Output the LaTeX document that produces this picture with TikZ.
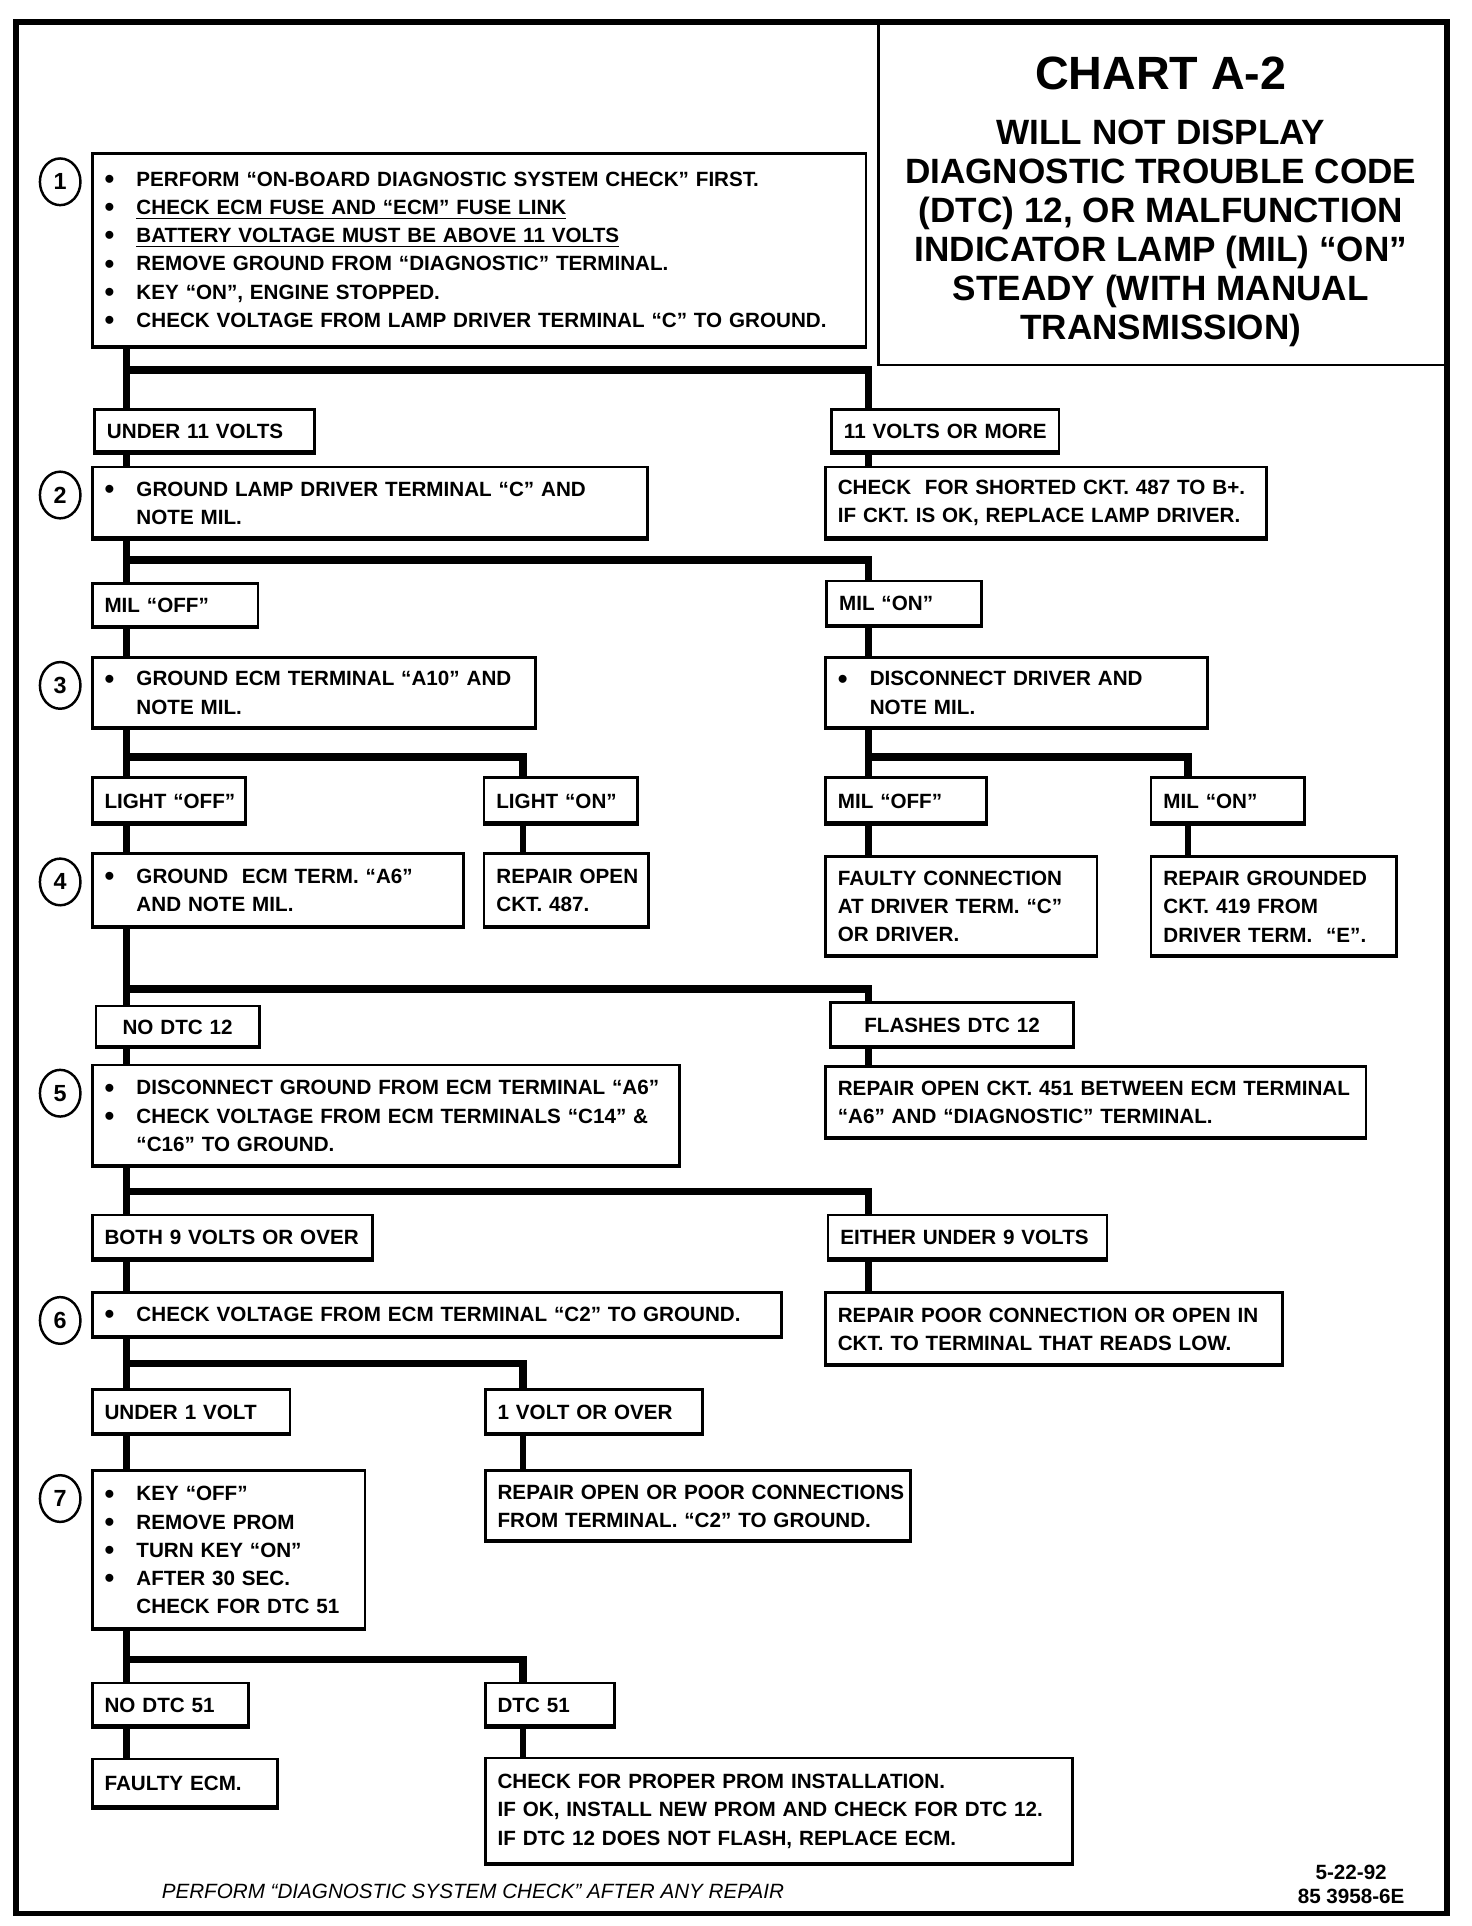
\documentclass[tikz,border=0pt]{standalone}
\usepackage{fontspec}
\setmainfont{Liberation Sans}
\usetikzlibrary{shapes.geometric,calc}
\newcommand{\boxfont}{\fontsize{8.4}{11.5}\selectfont\bfseries}
\newcommand{\chartfont}{\fontsize{19}{22}\selectfont\bfseries}
\newcommand{\headfont}{\fontsize{14.3}{15.9}\selectfont\bfseries}
\newcommand{\footfont}{\fontsize{8.4}{10}\selectfont\itshape}
\newcommand{\bul}{\makebox[13pt][l]{\raisebox{-0.9pt}{\scalebox{1.35}{\textbullet}}}}
\newcommand{\bgap}{\hspace*{13pt}}

\begin{document}
\begin{tikzpicture}[x=0.5pt,y=-0.5pt,
  base/.style={draw,line width=1.1pt,anchor=north west,inner xsep=0pt,inner ysep=0pt,font=\boxfont,
    path picture={\draw[line width=2.4pt] (path picture bounding box.south west) -- (path picture bounding box.south east);}},
  box/.style={base,align=left,execute at begin node={\leftskip=5pt}},
  cbox/.style={base,align=center},
  num/.style={ellipse,draw,line width=1pt,minimum width=16.5pt,minimum height=19pt,inner sep=0pt,font=\fontsize{9.5}{10}\selectfont\bfseries},
  ln/.style={line width=2.6pt}, bar/.style={line width=3.2pt}]
\useasboundingbox (0,0) rectangle (1198,1568);
\draw[line width=2.2pt] (13,18) rectangle (1178,1558);
% title block
\node[draw,line width=1.1pt,anchor=north west,minimum width=232pt,minimum height=139pt,inner sep=0pt] (ttlbox) at (714,18) {};
\node[font=\chartfont] (ttl) at (945,60) {CHART A-2};
\node[font=\headfont,align=center] (head) at (945,190) {WILL NOT DISPLAY\\DIAGNOSTIC TROUBLE CODE\\(DTC) 12, OR MALFUNCTION\\INDICATOR LAMP (MIL) “ON”\\STEADY (WITH MANUAL\\TRANSMISSION)};
% columns and junctions
\coordinate (cA) at (103,0); \coordinate (cB) at (426,0);
\coordinate (cC) at (707,0); \coordinate (cD) at (967,0);
\coordinate (j1) at (103,301); \coordinate (j2) at (103,456);
\coordinate (j3) at (103,616); \coordinate (j4) at (103,805);
\coordinate (j5) at (103,970); \coordinate (j6) at (103,1110);
\coordinate (j7) at (103,1351);
% step 1
\node[box,text width=315pt,minimum height=79pt] (s1) at (74,124) {\bul PERFORM “ON-BOARD DIAGNOSTIC SYSTEM CHECK” FIRST.\\
\bul \underline{CHECK ECM FUSE AND “ECM” FUSE LINK}\\
\bul \underline{BATTERY VOLTAGE MUST BE ABOVE 11 VOLTS}\\
\bul REMOVE GROUND FROM “DIAGNOSTIC” TERMINAL.\\
\bul KEY “ON”, ENGINE STOPPED.\\
\bul CHECK VOLTAGE FROM LAMP DRIVER TERMINAL “C” TO GROUND.};
\node[num] (n1) at ($(s1.north west)+(-25,24)$) {1};
\node[box,text width=89.5pt,minimum height=18pt] (u11) at (76,332) {UNDER 11 VOLTS};
\node[box,text width=92.5pt,minimum height=18pt] (o11) at (676,332) {11 VOLTS OR MORE};
% step 2
\node[box,text width=226pt,minimum height=29.5pt] (s2) at (74,379) {\bul GROUND LAMP DRIVER TERMINAL “C” AND\\\bgap NOTE MIL.};
\node[num] (n2) at ($(s2.north west)+(-25,24)$) {2};
\node[box,text width=179.5pt,minimum height=29.5pt] (r2) at (671,379) {CHECK\ \ FOR SHORTED CKT. 487 TO B+.\\IF CKT. IS OK, REPLACE LAMP DRIVER.};
\node[box,text width=67.5pt,minimum height=18pt] (moff) at (74,474) {MIL “OFF”};
\node[box,text width=63pt,minimum height=18.5pt] (mon) at (672,472) {MIL “ON”};
% step 3
\node[box,text width=180.5pt,minimum height=29pt] (s3) at (74,534) {\bul GROUND ECM TERMINAL “A10” AND\\\bgap NOTE MIL.};
\node[num] (n3) at ($(s3.north west)+(-25,24)$) {3};
\node[box,text width=155.5pt,minimum height=29pt] (r3) at (671,534) {\bul DISCONNECT DRIVER AND\\\bgap NOTE MIL.};
\node[box,text width=62.5pt,minimum height=19pt] (loff) at (74,632) {LIGHT “OFF”};
\node[box,text width=62.5pt,minimum height=19pt] (lon) at (393,632) {LIGHT “ON”};
\node[box,text width=65.5pt,minimum height=19pt] (m2off) at (671,632) {MIL “OFF”};
\node[box,text width=62.5pt,minimum height=19pt] (m2on) at (936,632) {MIL “ON”};
% step 4
\node[box,text width=151pt,minimum height=30pt] (s4) at (74,694) {\bul GROUND\ \ ECM TERM. “A6”\\\bgap AND NOTE MIL.};
\node[num] (n4) at ($(s4.north west)+(-25,24)$) {4};
\node[box,text width=67pt,minimum height=30pt] (rp487) at (393,694) {REPAIR OPEN\\CKT. 487.};
\node[box,text width=110.5pt,minimum height=41pt] (fc) at (671,696) {FAULTY CONNECTION\\AT DRIVER TERM. “C”\\OR DRIVER.};
\node[box,text width=100pt,minimum height=41pt] (rg) at (936,696) {REPAIR GROUNDED\\CKT. 419 FROM\\DRIVER TERM.\ \ “E”.};
\node[cbox,text width=66.5pt,minimum height=17pt] (nd12) at (77,818) {NO DTC 12};
\node[cbox,text width=99pt,minimum height=18.5pt] (fl12) at (675,815) {FLASHES DTC 12};
% step 5
\node[box,text width=239pt,minimum height=41.5pt] (s5) at (74,866) {\bul DISCONNECT GROUND FROM ECM TERMINAL “A6”\\
\bul CHECK VOLTAGE FROM ECM TERMINALS “C14” \&\\\bgap “C16” TO GROUND.};
\node[num] (n5) at ($(s5.north west)+(-25,24)$) {5};
\node[box,text width=220pt,minimum height=29.5pt] (r5) at (671,867) {REPAIR OPEN CKT. 451 BETWEEN ECM TERMINAL\\“A6” AND “DIAGNOSTIC” TERMINAL.};
\node[box,text width=114pt,minimum height=18.5pt] (b9) at (74,988) {BOTH 9 VOLTS OR OVER};
\node[box,text width=113.5pt,minimum height=18.5pt] (e9) at (673,988) {EITHER UNDER 9 VOLTS};
% step 6
\node[box,text width=280.5pt,minimum height=18.5pt] (s6) at (74,1051) {\bul CHECK VOLTAGE FROM ECM TERMINAL “C2” TO GROUND.};
\node[num] (n6) at ($(s6.north west)+(-25,24)$) {6};
\node[box,text width=186pt,minimum height=30pt] (r6) at (671,1051) {REPAIR POOR CONNECTION OR OPEN IN\\CKT. TO TERMINAL THAT READS LOW.};
\node[box,text width=80.5pt,minimum height=18.5pt] (u1) at (74,1130) {UNDER 1 VOLT};
\node[box,text width=88.5pt,minimum height=18.5pt] (v1) at (394,1130) {1 VOLT OR OVER};
% step 7
\node[box,text width=111pt,minimum height=65pt] (s7) at (74,1196) {\bul KEY “OFF”\\\bul REMOVE PROM\\\bul TURN KEY “ON”\\\bul AFTER 30 SEC.\\\bgap CHECK FOR DTC 51};
\node[num] (n7) at ($(s7.north west)+(-25,24)$) {7};
\node[box,text width=173pt,minimum height=29pt] (r7) at (394,1196) {REPAIR OPEN OR POOR CONNECTIONS\\FROM TERMINAL. “C2” TO GROUND.};
\node[box,text width=63.5pt,minimum height=18pt] (nd51) at (74,1369) {NO DTC 51};
\node[box,text width=52.5pt,minimum height=18pt] (d51) at (394,1369) {DTC 51};
\node[box,text width=75.5pt,minimum height=20pt] (fecm) at (74,1431) {FAULTY ECM.};
\node[box,text width=239pt,minimum height=43.5pt] (chk) at (394,1430) {CHECK FOR PROPER PROM INSTALLATION.\\IF OK, INSTALL NEW PROM AND CHECK FOR DTC 12.\\IF DTC 12 DOES NOT FLASH, REPLACE ECM.};
% footer
\node[font=\footfont] (foot) at (385,1540) {PERFORM “DIAGNOSTIC SYSTEM CHECK” AFTER ANY REPAIR};
\node[font=\fontsize{8.4}{9.5}\selectfont\bfseries,align=center] (date) at (1100,1534) {5-22-92\\85 3958-6E};
% connectors
\draw[ln] (s1.south -| cA) -- (u11.north -| cA);
\draw[bar] (j1) -| (o11.north -| cC);
\draw[ln] (u11.south -| cA) -- (s2.north -| cA);
\draw[ln] (o11.south -| cC) -- (r2.north -| cC);
\draw[ln] (s2.south -| cA) -- (moff.north -| cA);
\draw[bar] (j2) -| (mon.north -| cC);
\draw[ln] (moff.south -| cA) -- (s3.north -| cA);
\draw[ln] (mon.south -| cC) -- (r3.north -| cC);
\draw[ln] (s3.south -| cA) -- (loff.north -| cA);
\draw[bar] (j3) -| (lon.north -| cB);
\draw[ln] (r3.south -| cC) -- (m2off.north -| cC);
\draw[bar] (j3 -| cC) -| (m2on.north -| cD);
\draw[ln] (loff.south -| cA) -- (s4.north -| cA);
\draw[ln] (lon.south -| cB) -- (rp487.north -| cB);
\draw[ln] (m2off.south -| cC) -- (fc.north -| cC);
\draw[ln] (m2on.south -| cD) -- (rg.north -| cD);
\draw[ln] (s4.south -| cA) -- (nd12.north -| cA);
\draw[bar] (j4) -| (fl12.north -| cC);
\draw[ln] (nd12.south -| cA) -- (s5.north -| cA);
\draw[ln] (fl12.south -| cC) -- (r5.north -| cC);
\draw[ln] (s5.south -| cA) -- (b9.north -| cA);
\draw[bar] (j5) -| (e9.north -| cC);
\draw[ln] (b9.south -| cA) -- (s6.north -| cA);
\draw[ln] (e9.south -| cC) -- (r6.north -| cC);
\draw[ln] (s6.south -| cA) -- (u1.north -| cA);
\draw[bar] (j6) -| (v1.north -| cB);
\draw[ln] (u1.south -| cA) -- (s7.north -| cA);
\draw[ln] (v1.south -| cB) -- (r7.north -| cB);
\draw[ln] (s7.south -| cA) -- (nd51.north -| cA);
\draw[bar] (j7) -| (d51.north -| cB);
\draw[ln] (nd51.south -| cA) -- (fecm.north -| cA);
\draw[ln] (d51.south -| cB) -- (chk.north -| cB);
\end{tikzpicture}
\end{document}
